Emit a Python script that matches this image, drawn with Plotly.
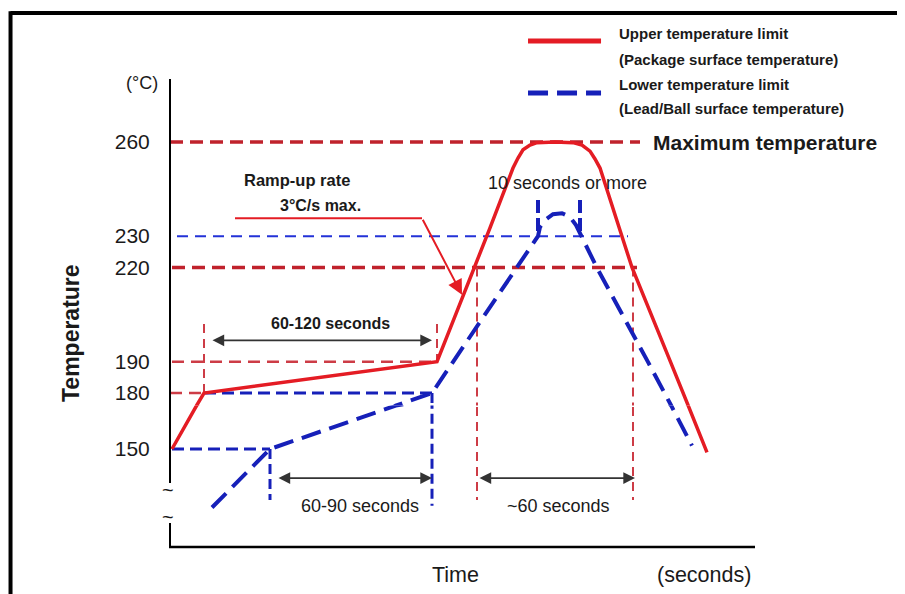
import plotly.graph_objects as go

# ---------------- data (time in s, temperature in degC) ----------------
upper_time = [1, 13.3, 17, 133.5, 160, 171.5, 174, 176.5, 180, 183.5, 192.5, 201.5, 206, 210, 212.5, 215,
              225, 231, 250.2, 256.6, 259.1, 268.5]
upper_temp = [150, 176, 180, 190, 232.6, 251.7, 254.9, 257.5, 259.0, 259.8, 260, 259.8, 259.0, 257.1, 254.6, 251.7,
              231.9, 220, 190, 180, 176, 148]

lower_time = [21, 50, 112.9, 131, 184, 185, 187.5, 191.5, 196, 200, 203, 204.5, 206, 213.4, 238.9, 247.3,
              250.6, 261]
lower_temp = [115, 150, 176, 180, 230, 232.9, 235.1, 237.0, 237.3, 236.1, 233.5, 231.6, 230, 220, 190, 180,
              176, 152]

upper_ticks = [180, 190, 220, 230, 260]
lower_ticks = [150]

# horizontal guide lines: level, start time, end time
red_thick_levels = [260, 220]
red_thick_start = [0, 1]
red_thick_end = [235, 233.5]
red_thin_levels = [190, 180]
red_thin_start = [1, 0]
red_thin_end = [133.5, 17]
blue_thin_levels = [230]
blue_thin_start = [3.5]
blue_thin_end = [229]
blue_levels = [180, 150]
blue_start = [17, 1]
blue_end = [131, 50]

# vertical guide lines: time, top temp, bottom temp
red_vert_time = [17, 133.5, 153.5, 231.5]
red_vert_top = [202, 202, 220, 220]
red_vert_bottom = [180, 190, 119.5, 119.5]
blue_vert_time = [131, 50]
blue_vert_top = [180, 150]
blue_vert_bottom = [116, 119.5]
peak_tick_time = [184, 205]
peak_tick_top = [241.5, 241.5]
peak_tick_bottom = [230, 230]

# interval arrows: start time, end time, level
span_labels = ["60-120 seconds", "60-90 seconds", "~60 seconds"]
span_start = [20.5, 53.5, 154]
span_end = [131, 131, 232.5]
span_level = [196.8, 132.6, 132.6]
span_text_time = [80, 95, 194]
span_text_level = [202.1, 115.9, 115.9]

ramp_time = [32.5, 126, 146]
ramp_level = [235.7, 235.7, 211.3]

RED = "rgb(228,28,36)"
RED_DASH = "rgb(192,34,44)"
RED_THIN = "rgb(205,60,70)"
BLUE = "rgb(22,32,185)"
BLUE_THIN = "rgb(35,50,215)"
INK = "#1a1a1a"
SANS = "Liberation Sans, Arial, sans-serif"

SEAM = 176  # broken axis: compressed scale below this temperature

fig = go.Figure()


def add_both(x, y, color, width, dash="solid"):
    for ya in ("y", "y2"):
        fig.add_trace(go.Scatter(x=x, y=y, mode="lines", yaxis=ya, xaxis="x",
                                 line=dict(color=color, width=width, dash=dash),
                                 hoverinfo="skip", showlegend=False))


# guide lines
for lv, a, b in zip(red_thick_levels, red_thick_start, red_thick_end):
    add_both([a, b], [lv, lv], RED_DASH, 3.5, "13px,7px")
for lv, a, b in zip(red_thin_levels, red_thin_start, red_thin_end):
    add_both([a, b], [lv, lv], RED_THIN, 2.5, "12px,7px")
for lv, a, b in zip(blue_thin_levels, blue_thin_start, blue_thin_end):
    add_both([a, b], [lv, lv], BLUE_THIN, 2, "11px,7px")
for lv, a, b in zip(blue_levels, blue_start, blue_end):
    add_both([a, b], [lv, lv], BLUE, 3, "12px,6px")
for t, top, bot in zip(red_vert_time, red_vert_top, red_vert_bottom):
    add_both([t, t], [top, bot], RED_THIN, 2, "9px,6px")
for t, top, bot in zip(blue_vert_time, blue_vert_top, blue_vert_bottom):
    add_both([t, t], [top, bot], BLUE, 3, "10px,5px")
for t, top, bot in zip(peak_tick_time, peak_tick_top, peak_tick_bottom):
    add_both([t, t], [top, bot], BLUE, 4, "13px,5px")

# profiles
add_both(lower_time, lower_temp, BLUE, 4, "20px,9px")
add_both(upper_time, upper_temp, RED, 3.5)

# ramp-up pointer (horizontal part)
fig.add_trace(go.Scatter(x=ramp_time[:2], y=ramp_level[:2], mode="lines", yaxis="y",
                         line=dict(color=RED, width=2), hoverinfo="skip", showlegend=False))

annotations = []
annotations.append(dict(x=ramp_time[2], y=ramp_level[2], ax=ramp_time[1], ay=ramp_level[1],
                        xref="x", yref="y", axref="x", ayref="y", text="", showarrow=True,
                        arrowhead=2, arrowsize=1.5, arrowwidth=2, arrowcolor=RED))

for lab, a, b, lv, tt, tl in zip(span_labels, span_start, span_end, span_level,
                                 span_text_time, span_text_level):
    yr = "y" if lv >= SEAM else "y2"
    annotations.append(dict(x=b, y=lv, ax=a, ay=lv, xref="x", yref=yr, axref="x", ayref=yr,
                            text="", showarrow=True, arrowhead=2, arrowsize=1.3,
                            startarrowhead=2, startarrowsize=1.3, arrowside="end+start",
                            arrowwidth=1.8, arrowcolor="#333333"))
    bold = lab.startswith("60-120")
    annotations.append(dict(x=tt, y=tl, xref="x", yref="y" if tl >= SEAM else "y2",
                            text=f"<b>{lab}</b>" if bold else lab, showarrow=False,
                            xanchor="center", yanchor="middle",
                            font=dict(family=SANS, size=16 if bold else 18, color=INK)))

annotations += [
    dict(x=63.5, y=247.9, xref="x", yref="y", text="<b>Ramp-up rate</b>", showarrow=False,
         xanchor="center", yanchor="middle", font=dict(family=SANS, size=16.5, color=INK)),
    dict(x=75, y=239.9, xref="x", yref="y", text="<b>3°C/s max.</b>", showarrow=False,
         xanchor="center", yanchor="middle", font=dict(family=SANS, size=16, color=INK)),
    dict(x=198.5, y=246.9, xref="x", yref="y", text="10 seconds or more", showarrow=False,
         xanchor="center", yanchor="middle", font=dict(family=SANS, size=18, color=INK)),
    dict(x=240.5, y=260, xref="x", yref="y", text="<b>Maximum temperature</b>", showarrow=False,
         xanchor="left", yanchor="middle", font=dict(family=SANS, size=21, color=INK)),
]

# legend (manual, to match original layout)
legend_lines = ["Upper temperature limit", "(Package surface temperature)",
                "Lower temperature limit", "(Lead/Ball surface temperature)"]
legend_y = [1.0962, 1.0427, 0.9893, 0.938]
for txt, yy in zip(legend_lines, legend_y):
    annotations.append(dict(x=0.7635, y=yy, xref="paper", yref="paper", text=f"<b>{txt}</b>",
                            showarrow=False, xanchor="left", yanchor="middle",
                            font=dict(family=SANS, size=15, color=INK)))

# axis titles / decorations
annotations += [
    dict(x=-0.0479, y=0.9915, xref="paper", yref="paper", text="(°C)", showarrow=False,
         font=dict(family=SANS, size=18, color=INK)),
    dict(x=-0.1692, y=0.4573, xref="paper", yref="paper", text="<b>Temperature</b>",
         textangle=-90, showarrow=False, font=dict(family=SANS, size=23, color=INK)),
    dict(x=0.4872, y=-0.0598, xref="paper", yref="paper", text="Time", showarrow=False,
         font=dict(family=SANS, size=21.5, color=INK)),
    dict(x=0.9128, y=-0.0598, xref="paper", yref="paper", text="(seconds)", showarrow=False,
         font=dict(family=SANS, size=21.5, color=INK)),
    dict(x=-0.004, y=0.1218, xref="paper", yref="paper", text="~", showarrow=False,
         font=dict(family=SANS, size=20, color=INK)),
    dict(x=-0.004, y=0.0641, xref="paper", yref="paper", text="~", showarrow=False,
         font=dict(family=SANS, size=20, color=INK)),
]
for a in annotations[-6:]:
    a["xanchor"] = "center"
    a["yanchor"] = "middle"

shapes = [
    # legend samples
    dict(type="line", xref="paper", yref="paper", x0=0.612, x1=0.7368, y0=1.0812, y1=1.0812,
         line=dict(color=RED, width=5)),
    dict(type="line", xref="paper", yref="paper", x0=0.612, x1=0.7368, y0=0.9701, y1=0.9701,
         line=dict(color=BLUE, width=5, dash="20px,9px")),
    # axes with break
    dict(type="line", xref="paper", yref="paper", x0=0, x1=0, y0=1.0, y1=0.1368,
         line=dict(color="black", width=2)),
    dict(type="line", xref="paper", yref="paper", x0=0, x1=0, y0=0.0513, y1=0,
         line=dict(color="black", width=2)),
    dict(type="line", xref="paper", yref="paper", x0=-0.0017, x1=1, y0=0, y1=0,
         line=dict(color="black", width=2.5)),
    # outer frame
    dict(type="line", xref="paper", yref="paper", x0=-0.2726, x1=1.3, y0=1.141, y1=1.141,
         line=dict(color="black", width=4)),
    dict(type="line", xref="paper", yref="paper", x0=-0.2726, x1=-0.2726, y0=1.145, y1=-0.13,
         line=dict(color="black", width=4)),
]

axis_common = dict(showgrid=False, zeroline=False, showline=False, ticks="outside",
                   ticklen=15, tickcolor="rgba(0,0,0,0)",
                   tickfont=dict(family=SANS, size=21, color=INK))

# the page body adds an 8px offset, so margins are reduced by 8px on the top/left
fig.update_layout(
    width=905, height=594, template="none",
    paper_bgcolor="white", plot_bgcolor="white",
    margin=dict(l=162, r=158, t=71, b=55),
    showlegend=False,
    xaxis=dict(range=[0, 292.5], showticklabels=False, showgrid=False, zeroline=False,
               showline=False, ticks=""),
    yaxis=dict(domain=[0.30224, 1], range=[SEAM, 280.08], tickmode="array",
               tickvals=upper_ticks, ticktext=[str(v) for v in upper_ticks], **axis_common),
    yaxis2=dict(domain=[0, 0.30224], range=[91.36, SEAM], anchor="x", tickmode="array",
                tickvals=lower_ticks, ticktext=[str(v) for v in lower_ticks], **axis_common),
    annotations=annotations,
    shapes=shapes,
)

fig.write_html("out.html")
